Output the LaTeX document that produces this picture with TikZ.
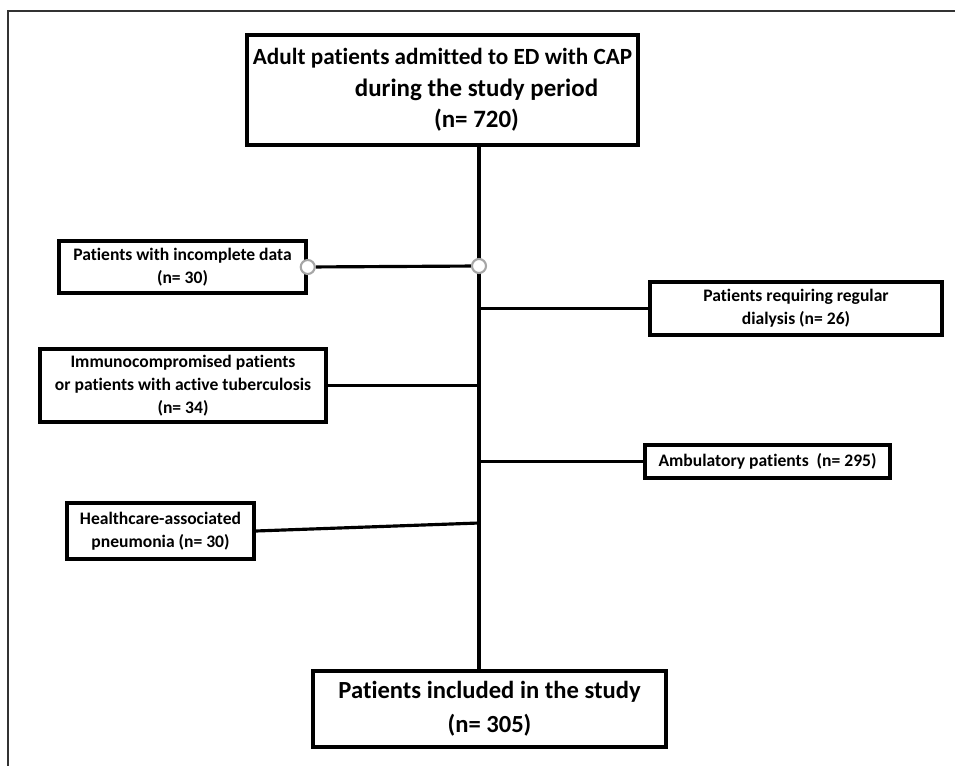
\documentclass[tikz,border=0pt]{standalone}
\usepackage{fontspec}
\setmainfont[Ligatures=NoCommon]{Carlito}

\begin{document}
\begin{tikzpicture}[x=0.02cm,y=-0.02cm,
    box/.style={draw,line width=2pt,align=center,inner sep=0pt},
    small/.style={font=\fontsize{10}{13}\selectfont\bfseries},
    large/.style={font=\fontsize{13.2}{18}\selectfont\bfseries},
    knot/.style={circle,draw=gray!70,fill=white,line width=1.2pt,minimum size=0.28cm,inner sep=0pt},
    link/.style={line width=1.8pt}]
      \useasboundingbox (0,0) rectangle (955,766);
      \draw[line width=1.2pt,black!80] (955,11) -- (8,11) -- (8,766);

      \node[box,large,minimum width=7.82cm,minimum height=2.2cm] (admitted) at (442.5,90) {Adult patients admitted to ED with CAP\\\hspace*{1.36cm}{\fontsize{14.2}{18}\selectfont during the study period}\\\hspace*{1.36cm}{\fontsize{14.2}{18}\selectfont (n= 720)}};
      \node[box,small,minimum width=4.94cm,minimum height=1.04cm] (incomplete) at (182.5,267) {Patients with incomplete data\\(n= 30)};
      \node[box,small,minimum width=5.84cm,minimum height=1.06cm] (dialysis) at (796,308.5) {Patients requiring regular\\dialysis (n= 26)};
      \node[box,small,minimum width=5.72cm,minimum height=1.46cm] (immuno) at (183,385.5) {Immunocompromised patients\\or patients with active tuberculosis\\(n= 34)};
      \node[box,small,minimum width=4.9cm,minimum height=0.66cm] (ambulatory) at (767.5,461.5) {Ambulatory patients~ (n= 295)};
      \node[box,small,minimum width=3.74cm,minimum height=1.12cm] (hcap) at (160.5,531) {Healthcare-associated\\pneumonia (n= 30)};
      \node[box,font=\fontsize{14}{19.3}\selectfont\bfseries,minimum width=7.06cm,minimum height=1.52cm] (included) at (489.5,709) {Patients included in the study\\(n= 305)};

      % trunk and branches
      \coordinate (trunk) at (479,0);
      \coordinate (hjoin) at (479,523);
      \draw[link] (trunk |- admitted.south) -- (trunk |- included.north);
      \draw[link] (trunk |- dialysis) -- (dialysis.west);
      \draw[link] (immuno.east) -- (trunk |- immuno.east);
      \draw[link] (trunk |- ambulatory) -- (ambulatory.west);
      \draw[link] (hcap.east) -- (hjoin);

      \node[knot] (split) at (479,266) {};
      \node[knot] (drop) at (incomplete.east) {};
      \draw[link] (drop) -- (split);
\end{tikzpicture}
\end{document}
